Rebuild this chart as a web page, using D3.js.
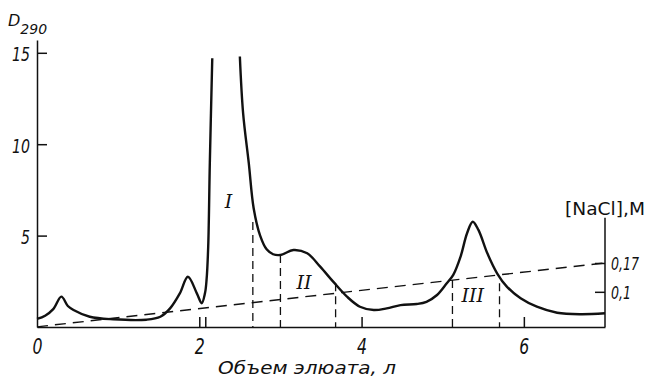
<!DOCTYPE html>
<html>
<head>
<meta charset="utf-8">
<script src="https://cdn.jsdelivr.net/npm/d3@7"></script>
<style>
  body { margin: 0; background: #fff; }
  svg { display: block; }
  .axis path, .axis line { stroke: #111; stroke-width: 1.5; }
  .axis text { font-family: "DejaVu Sans", sans-serif; font-style: italic; fill: #111; }
  .lbl { font-family: "DejaVu Sans", sans-serif; fill: #111; }
</style>
</head>
<body>
<div id="chart"></div>
<script>
// Data

// absorbance D290 along the eluate volume (l); null = off-scale gap of the big peak
const elutionVolume = [0, 0.1, 0.2, 0.3, 0.38, 0.45, 0.65, 0.94, 1.35, 1.52, 1.64, 1.76, 1.86, 1.97, 2.03, 2.07, 2.09, 2.11, 2.13, 2.16,
  null,
  2.50, 2.54, 2.61, 2.67, 2.75, 2.83, 2.91, 3.0, 3.16, 3.33, 3.49, 3.65, 3.82, 3.98, 4.15, 4.31, 4.48, 4.68, 4.80, 4.93,
  5.05, 5.13, 5.22, 5.30, 5.37, 5.44, 5.55, 5.67, 5.79, 5.96, 6.16, 6.41, 6.70, 7.0];
const absorbance = [0.44, 0.62, 0.98, 1.66, 1.15, 0.93, 0.56, 0.42, 0.40, 0.56, 1.02, 1.84, 2.75, 1.84, 1.30, 1.84, 2.6, 4.4, 9.0, 14.7,
  null,
  14.8, 11.7, 8.96, 6.5, 5.0, 4.25, 3.98, 3.94, 4.21, 4.03, 3.30, 2.48, 1.66, 1.11, 0.93, 1.02, 1.20, 1.26, 1.38, 1.75,
  2.39, 2.85, 3.85, 5.13, 5.76, 5.31, 4.03, 2.94, 2.21, 1.57, 1.11, 0.78, 0.70, 0.75];

// NaCl gradient (M), start and end
const gradientVolume = [0, 7];
const gradientNaCl = [0.015, 0.17];

// fraction boundaries (dashed) and the top of each dashed line (D units)
const cutVolume = [2.66, 3.0, 3.68, 5.12, 5.7];
const cutTop = [5.75, 3.94, 2.4, 2.57, 2.4];
const fractionStart = [2.08];

// fraction labels
const fractionNames = ['I', 'II', 'III'];
const fractionX = [2.36, 3.29, 5.37];
const fractionY = [6.9, 2.45, 1.75];

// ticks
const xTicks = [0, 2, 4, 6];
const yTicks = [5, 10, 15];
const naclTicks = [0.1, 0.17];

// Chart setup
const width = 649;
const height = 382;
const svg = d3.select('#chart')
  .append('svg')
  .attr('width', width)
  .attr('height', height);

svg.append('rect').attr('width', width).attr('height', height).attr('fill', '#fff');

const x = d3.scaleLinear().domain([0, 7]).range([37, 605]);
const y = d3.scaleLinear().domain([0, 15.7]).range([327, 40]);
const c = d3.scaleLinear().domain([0, 0.28]).range([333, 217.7]);

// Axes
const xAxis = svg.append('g')
  .attr('class', 'axis')
  .attr('transform', `translate(0,${y(0)})`)
  .call(d3.axisBottom(x).tickValues(xTicks).tickSizeInner(-10).tickSizeOuter(0).tickFormat(d3.format('d')));
xAxis.selectAll('.tick').filter(d => d === 0).select('line').remove();
xAxis.selectAll('text')
  .attr('y', 27).attr('dy', 0)
  .style('font-size', '21px')
  .attr('textLength', 10).attr('lengthAdjust', 'spacingAndGlyphs');

const yAxis = svg.append('g')
  .attr('class', 'axis')
  .attr('transform', `translate(${x(0)},0)`)
  .call(d3.axisLeft(y).tickValues(yTicks).tickSizeInner(-10).tickSizeOuter(0).tickPadding(7));
yAxis.selectAll('text')
  .attr('dy', '0.4em')
  .style('font-size', '20px')
  .attr('textLength', d => String(d).length * 9)
  .attr('lengthAdjust', 'spacingAndGlyphs');

// right axis for NaCl
svg.append('line')
  .attr('x1', x(7)).attr('x2', x(7))
  .attr('y1', y(0)).attr('y2', c(0.28))
  .attr('stroke', '#111').attr('stroke-width', 1.5);
const cAxis = svg.append('g')
  .attr('class', 'axis')
  .attr('transform', `translate(${x(7)},0)`)
  .call(d3.axisRight(c).tickValues(naclTicks).tickSizeInner(-10).tickSizeOuter(0)
    .tickFormat(d => String(d).replace('.', ',')));
cAxis.select('.domain').remove();
cAxis.selectAll('text')
  .attr('x', 0)
  .attr('dy', '0.38em')
  .attr('transform', 'translate(6,0) scale(0.7,1)')
  .style('font-size', '18px');

// NaCl gradient line
const gradient = gradientVolume.map((v, i) => ({ v, n: gradientNaCl[i] }));
svg.append('path')
  .datum(gradient)
  .attr('fill', 'none')
  .attr('stroke', '#111')
  .attr('stroke-width', 1.4)
  .attr('stroke-dasharray', '11,7')
  .attr('d', d3.line().x(d => x(d.v)).y(d => c(d.n)));

// fraction boundaries
svg.append('g')
  .selectAll('line')
  .data(cutVolume)
  .enter().append('line')
  .attr('x1', d => x(d)).attr('x2', d => x(d))
  .attr('y1', (d, i) => y(cutTop[i])).attr('y2', y(0))
  .attr('stroke', '#111')
  .attr('stroke-width', 1.3)
  .attr('stroke-dasharray', '8,5');

svg.append('g')
  .selectAll('line')
  .data(fractionStart)
  .enter().append('line')
  .attr('x1', d => x(d)).attr('x2', d => x(d))
  .attr('y1', y(0) - 10).attr('y2', y(0))
  .attr('stroke', '#111')
  .attr('stroke-width', 1.5);

// elution curve
const curve = elutionVolume.map((v, i) => ({ v, a: absorbance[i] }));
svg.append('path')
  .datum(curve)
  .attr('fill', 'none')
  .attr('stroke', '#111')
  .attr('stroke-width', 2.4)
  .attr('stroke-linejoin', 'round')
  .attr('d', d3.line()
    .defined(d => d.v !== null)
    .curve(d3.curveCatmullRom.alpha(0.5))
    .x(d => x(d.v))
    .y(d => y(d.a)));

// fraction labels
svg.append('g')
  .selectAll('text')
  .data(fractionNames)
  .enter().append('text')
  .attr('x', (d, i) => x(fractionX[i]))
  .attr('y', (d, i) => y(fractionY[i]))
  .attr('dy', '0.35em')
  .attr('text-anchor', 'middle')
  .style('font-family', '"DejaVu Serif", serif')
  .style('font-style', 'italic')
  .style('font-size', '19px')
  .attr('fill', '#111')
  .text(d => d);

// titles
const yTitle = svg.append('text')
  .attr('class', 'lbl')
  .attr('x', 8)
  .attr('y', 26)
  .style('font-style', 'italic')
  .style('font-size', '16px');
yTitle.append('tspan').text('D');
yTitle.append('tspan').attr('dy', 8).style('font-size', '14px').text('290');

svg.append('text')
  .attr('class', 'lbl')
  .attr('x', 565)
  .attr('y', 215)
  .style('font-size', '18px')
  .attr('textLength', 80)
  .attr('lengthAdjust', 'spacingAndGlyphs')
  .text('[NaCl],M');

svg.append('text')
  .attr('class', 'lbl')
  .attr('x', 218)
  .attr('y', 374)
  .style('font-style', 'italic')
  .style('font-size', '18px')
  .attr('textLength', 178)
  .attr('lengthAdjust', 'spacingAndGlyphs')
  .text('Объем элюата, л');
</script>
</body>
</html>
